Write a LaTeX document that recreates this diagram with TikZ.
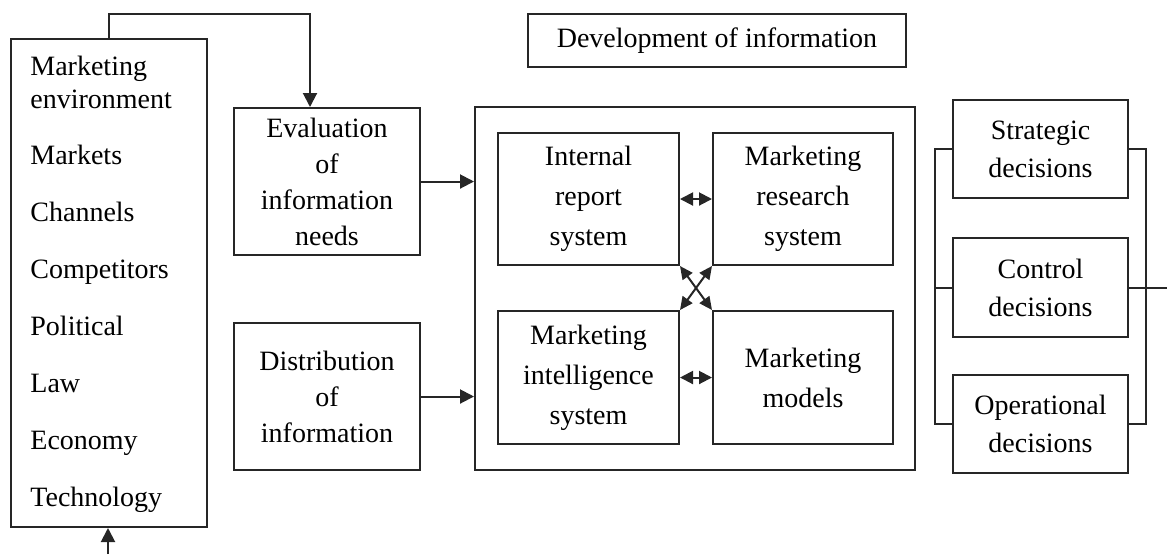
\documentclass[tikz,border=0pt]{standalone}
\usepackage{fontspec}
\setmainfont{Liberation Serif}
\usetikzlibrary{arrows.meta}
\begin{document}
\begin{tikzpicture}[x=0.5pt,y=-0.5pt,
  box/.style={draw=black!85,line width=1pt,rectangle,inner sep=0pt,align=center},
  fa/.style={font=\fontsize{14}{18}\selectfont},
  fb/.style={font=\fontsize{14}{20}\selectfont},
  fc/.style={font=\fontsize{14}{19}\selectfont},
  item/.style={anchor=base west,inner sep=0pt,font=\fontsize{14}{16.5}\selectfont,align=left},
  conn/.style={draw=black!85,line width=1pt},
  arr/.style={conn,-{Triangle[length=7pt,width=7pt]}},
  darr/.style={conn,{Triangle[length=6.5pt,width=6.5pt]}-{Triangle[length=6.5pt,width=6.5pt]}},
  xarr/.style={conn,{Triangle[length=6.5pt,width=6pt]}-{Triangle[length=6.5pt,width=6pt]}}]
\useasboundingbox (0,0) rectangle (1167,554);

% left environment box
\node[box,minimum width=98pt,minimum height=244pt] (env) at (109,283) {};
\node[item] (t1) at (30,75) {Marketing};
\node[item] (t1b) at (30,108) {environment};
\node[item] (t2) at (30,164) {Markets};
\node[item] (t3) at (30,221) {Channels};
\node[item] (t4) at (30,278) {Competitors};
\node[item] (t5) at (30,335) {Political};
\node[item] (t6) at (30,392) {Law};
\node[item] (t7) at (30,449) {Economy};
\node[item] (t8) at (30,506) {Technology};

% evaluation and distribution
\node[box,fa,minimum width=93pt,minimum height=73.5pt] (eval) at (327,181.5) {Evaluation\\of\\information\\needs};
\node[box,fa,minimum width=93pt,minimum height=73.5pt] (dist) at (327,396.5) {Distribution\\of\\information};

% development of information
\node[box,fa,minimum width=189pt,minimum height=26.5pt] (dev) at (717,40.5) {Development of information};

% big box and inner boxes
\node[box,minimum width=220pt,minimum height=181.5pt] (big) at (695,288.5) {};
\node[box,fb,minimum width=90.5pt,minimum height=66pt] (internal) at (588.5,199) {Internal\\report\\system};
\node[box,fb,minimum width=90pt,minimum height=66pt] (research) at (803,199) {Marketing\\research\\system};
\node[box,fb,minimum width=90.5pt,minimum height=66.5pt] (intel) at (588.5,377.5) {Marketing\\intelligence\\system};
\node[box,fb,minimum width=90pt,minimum height=66.5pt] (models) at (803,377.5) {Marketing\\models};

% decisions
\node[box,fc,minimum width=87.5pt,minimum height=49pt] (strat) at (1040.5,149) {Strategic\\decisions};
\node[box,fc,minimum width=87.5pt,minimum height=49.5pt] (control) at (1040.5,287.5) {Control\\decisions};
\node[box,fc,minimum width=87.5pt,minimum height=49pt] (oper) at (1040.5,424) {Operational\\decisions};

% connectors
\coordinate (top) at (310,14);
\draw[arr] (env.north) |- (top) -- (eval.north -| top);
\coordinate (bot) at (108,554);
\draw[arr] (bot) -- (env.south -| bot);
\draw[arr] (eval.east) -- (big.west |- eval.east);
\draw[arr] (dist.east) -- (big.west |- dist.east);
\draw[darr] (internal.east) -- (research.west);
\draw[darr] (intel.east) -- (models.west);
\draw[xarr] (internal.south east) -- (models.north west);
\draw[xarr] (research.south west) -- (intel.north east);

\coordinate (lb) at (935,0);
\coordinate (rb) at (1146,0);
\coordinate (rend) at (1167,287.5);
\draw[conn] (strat.west) -- (strat.west -| lb) -- (oper.west -| lb) -- (oper.west);
\draw[conn] (control.west) -- (control.west -| lb);
\draw[conn] (strat.east) -- (strat.east -| rb) -- (oper.east -| rb) -- (oper.east);
\draw[conn] (control.east) -- (rend);
\end{tikzpicture}
\end{document}
